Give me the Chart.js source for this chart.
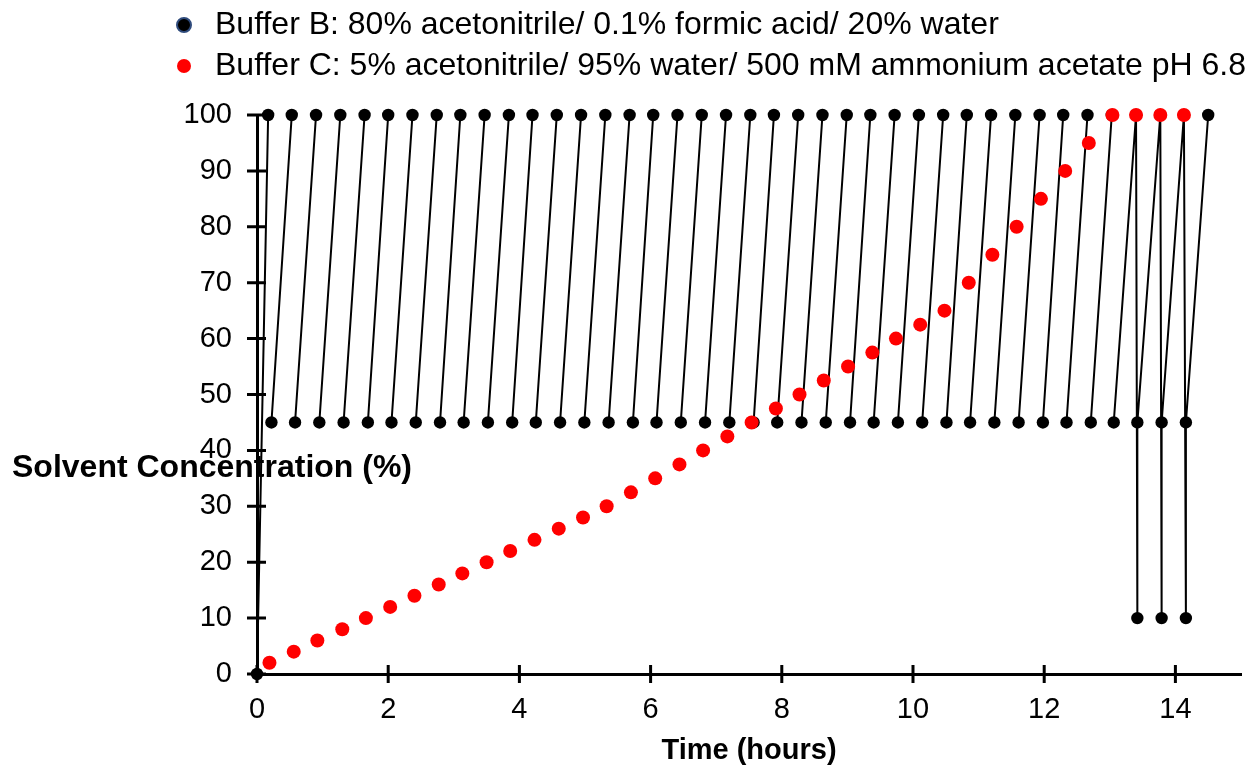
<!DOCTYPE html>
<html>
<head>
<meta charset="utf-8">
<title>Solvent gradient program</title>
<script src="https://cdn.jsdelivr.net/npm/chart.js@4.4.1/dist/chart.umd.min.js"></script>
<style>
  html, body { margin: 0; padding: 0; background: #ffffff; }
  #wrap { width: 1248px; height: 765px; position: relative; }
</style>
</head>
<body>
<div id="wrap"><canvas id="chart" width="1248" height="765"></canvas></div>
<script>
// Buffer B: times (hours) where each ramp reaches 100 %
const bTopTimes = [0.17, 0.53, 0.90, 1.27, 1.64, 2.00, 2.37, 2.74, 3.10, 3.47,
                   3.84, 4.20, 4.57, 4.94, 5.31, 5.68, 6.04, 6.41, 6.78, 7.15,
                   7.52, 7.88, 8.25, 8.62, 8.99, 9.35, 9.72, 10.09, 10.46, 10.82,
                   11.19, 11.56, 11.93, 12.29, 12.66, 13.03, 13.40, 13.77, 14.13, 14.50];
// Buffer B: times (hours) where the next ramp restarts at 45 %
const bBaseTimes = [0.22, 0.58, 0.95, 1.32, 1.69, 2.05, 2.42, 2.79, 3.15, 3.52,
                    3.89, 4.25, 4.62, 4.99, 5.36, 5.73, 6.09, 6.46, 6.83, 7.20,
                    7.57, 7.93, 8.30, 8.67, 9.04, 9.40, 9.77, 10.14, 10.51, 10.87,
                    11.24, 11.61, 11.98, 12.34, 12.71, 13.06, 13.42, 13.79, 14.16];
// Buffer B: short drops to 10 % in the last cycles
const bWashTimes = [13.42, 13.79, 14.16];
const bStart = 0, bBase = 45, bTop = 100, bWash = 10;

// Buffer C step concentrations
const cTimes = [0.19, 0.56, 0.92, 1.30, 1.66, 2.03, 2.40, 2.77, 3.13, 3.50,
                3.86, 4.23, 4.60, 4.97, 5.33, 5.70, 6.07, 6.44, 6.80, 7.17,
                7.54, 7.91, 8.27, 8.64, 9.01, 9.38, 9.74, 10.11, 10.48, 10.85,
                11.21, 11.58, 11.95, 12.32, 12.68, 13.04, 13.40, 13.77, 14.13];
const cValues = [2, 4, 6, 8, 10, 12, 14, 16, 18, 20,
                 22, 24, 26, 28, 30, 32.5, 35, 37.5, 40, 42.5,
                 45, 47.5, 50, 52.5, 55, 57.5, 60, 62.5, 65, 70,
                 75, 80, 85, 90, 95, 100, 100, 100, 100];

const seriesLabels = [
  'Buffer B: 80% acetonitrile/ 0.1% formic acid/ 20% water',
  'Buffer C: 5% acetonitrile/ 95% water/ 500 mM ammonium acetate pH 6.8'
];
const xTitle = 'Time (hours)';
const yTitle = 'Solvent Concentration (%)';

// Build the Buffer B trace: each ramp is its own segment (null breaks the line)
const bData = [{x: 0, y: bStart}, {x: bTopTimes[0], y: bTop}];
bBaseTimes.forEach((t, i) => {
  if (bWashTimes.includes(t)) {
    bData.push({x: t, y: bWash});
  } else {
    bData.push({x: t, y: null});
  }
  bData.push({x: t, y: bBase}, {x: bTopTimes[i + 1], y: bTop});
});
const cData = cTimes.map((t, i) => ({x: t, y: cValues[i]}));

const FONT = '"Liberation Sans", Arial, Helvetica, sans-serif';

// Legend markers
function makeMarker(fill, stroke) {
  const c = document.createElement('canvas');
  c.width = 18; c.height = 18;
  const g = c.getContext('2d');
  g.beginPath();
  g.arc(9, 9, 7, 0, Math.PI * 2);
  g.fillStyle = fill;
  g.fill();
  if (stroke) { g.lineWidth = 2; g.strokeStyle = stroke; g.stroke(); }
  return c;
}
const legendMarkers = [makeMarker('#000000', '#2f4b7c'), makeMarker('#ff0000', null)];

// Cross-shaped tick marks and the horizontal y-axis title
const axisDecor = {
  id: 'axisDecor',
  beforeDatasetsDraw(chart) {
    const {ctx, scales: {x, y}, chartArea} = chart;
    ctx.save();
    ctx.strokeStyle = '#000';
    ctx.lineWidth = 3;
    ctx.beginPath();
    y.ticks.forEach(t => {
      const py = y.getPixelForValue(t.value);
      ctx.moveTo(chartArea.left - 10, py);
      ctx.lineTo(chartArea.left + 9, py);
    });
    x.ticks.forEach(t => {
      const px = x.getPixelForValue(t.value);
      ctx.moveTo(px, chartArea.bottom - 9);
      ctx.lineTo(px, chartArea.bottom + 9);
    });
    ctx.stroke();
    ctx.restore();
  },
  afterDraw(chart) {
    const {ctx, scales: {y}} = chart;
    ctx.save();
    ctx.font = 'bold 32px ' + FONT;
    ctx.fillStyle = '#000';
    ctx.textAlign = 'left';
    ctx.textBaseline = 'middle';
    ctx.fillText(yTitle, 12, y.getPixelForValue(36.8));
    ctx.restore();
  }
};

// Reserve room under the legend
const legendRoom = {
  id: 'legendRoom',
  beforeInit(chart) {
    const origFit = chart.legend.fit;
    chart.legend.fit = function () {
      origFit.call(this);
      this.height = 115;
    };
  }
};

new Chart(document.getElementById('chart'), {
  type: 'line',
  data: {
    datasets: [
      {
        label: seriesLabels[0],
        data: bData,
        borderColor: '#000',
        borderWidth: 2,
        backgroundColor: '#000',
        pointBackgroundColor: '#000',
        pointBorderColor: '#000',
        pointRadius: 6.2,
        pointBorderWidth: 0,
        spanGaps: false,
        tension: 0,
        clip: false,
        order: 1
      },
      {
        label: seriesLabels[1],
        data: cData,
        showLine: false,
        borderColor: '#ff0000',
        backgroundColor: '#ff0000',
        pointBackgroundColor: '#ff0000',
        pointBorderColor: '#ff0000',
        pointRadius: 7,
        pointBorderWidth: 0,
        clip: false,
        order: 0
      }
    ]
  },
  options: {
    responsive: false,
    animation: false,
    devicePixelRatio: 1,
    layout: { padding: { left: 160, right: 2, top: 0, bottom: 0 } },
    plugins: {
      tooltip: { enabled: false },
      legend: {
        display: true,
        position: 'top',
        align: 'start',
        labels: {
          usePointStyle: true,
          pointStyleWidth: 30,
          boxHeight: 14,
          padding: 9,
          color: '#000',
          font: { family: FONT, size: 32 },
          generateLabels(chart) {
            const items = Chart.defaults.plugins.legend.labels.generateLabels(chart);
            items.sort((a, b) => a.datasetIndex - b.datasetIndex);
            items.forEach(it => { it.pointStyle = legendMarkers[it.datasetIndex]; });
            return items;
          }
        }
      }
    },
    scales: {
      x: {
        type: 'linear',
        min: 0,
        max: 15,
        grid: { display: false, drawTicks: false },
        border: { display: true, color: '#000', width: 3 },
        ticks: {
          stepSize: 2,
          includeBounds: false,
          padding: 19,
          color: '#000',
          font: { family: FONT, size: 29 },
          maxRotation: 0
        },
        title: {
          display: true,
          text: xTitle,
          color: '#000',
          font: { family: FONT, size: 29, weight: 'bold', lineHeight: 1 },
          padding: { top: 0, bottom: 0 }
        },
        afterFit(scale) { scale.height = 91; }
      },
      y: {
        type: 'linear',
        min: 0,
        max: 100,
        grid: { display: false, drawTicks: false },
        border: { display: true, color: '#000', width: 3 },
        ticks: {
          stepSize: 10,
          padding: 25,
          color: '#000',
          font: { family: FONT, size: 29 }
        },
        afterFit(scale) { scale.width = 97; }
      }
    }
  },
  plugins: [legendRoom, axisDecor]
});
</script>
</body>
</html>
